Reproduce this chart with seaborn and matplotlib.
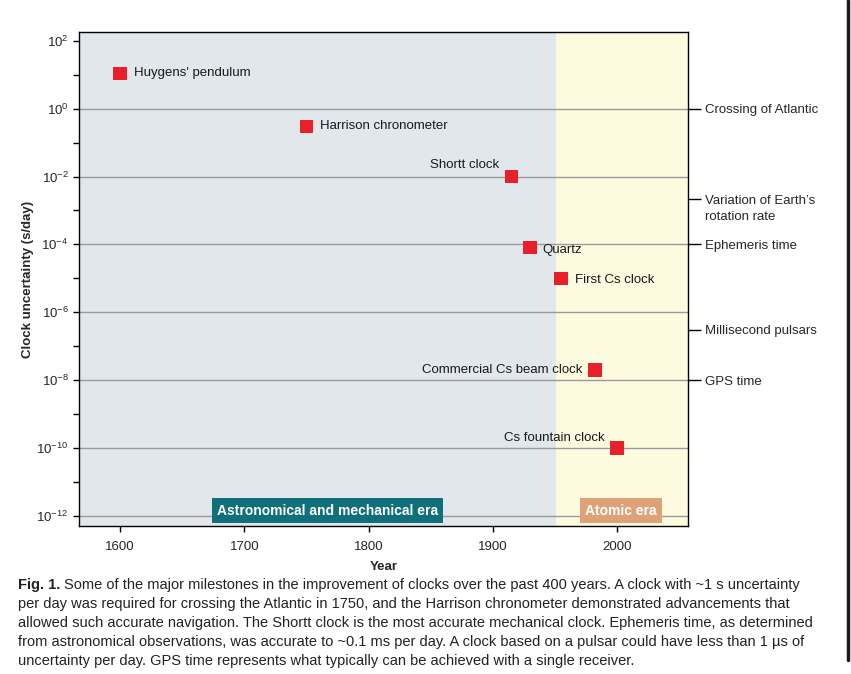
import matplotlib
matplotlib.use("Agg")
import matplotlib.pyplot as plt
import matplotlib.transforms as mtransforms
from matplotlib.lines import Line2D
import seaborn as sns
import pandas as pd

# ---- data ----
clock_names = ["Huygens' pendulum", "Harrison chronometer", "Shortt clock", "Quartz",
               "First Cs clock", "Commercial Cs beam clock", "Cs fountain clock"]
clock_years = [1600, 1750, 1915, 1930, 1955, 1982, 2000]
clock_uncert = [1.1e1, 3e-1, 1e-2, 8e-5, 1e-5, 2e-8, 1e-10]

ref_labels = ["Crossing of Atlantic", "Variation of Earth\u2019s\nrotation rate",
              "Ephemeris time", "Millisecond pulsars", "GPS time"]
ref_values = [1e0, 2.2e-3, 1e-4, 3e-7, 1e-8]

era_names = ["Astronomical and mechanical era", "Atomic era"]
era_start = [1567, 1951]
era_end = [1951, 2057]

major_exps = [2, 0, -2, -4, -6, -8, -10, -12]
minor_exps = [1, -1, -3, -5, -7, -9, -11]
year_ticks = [1600, 1700, 1800, 1900, 2000]

caption_lines = [
    "Some of the major milestones in the improvement of clocks over the past 400 years. A clock with ~1 s uncertainty",
    "per day was required for crossing the Atlantic in 1750, and the Harrison chronometer demonstrated advancements that",
    "allowed such accurate navigation. The Shortt clock is the most accurate mechanical clock. Ephemeris time, as determined",
    "from astronomical observations, was accurate to ~0.1 ms per day. A clock based on a pulsar could have less than 1 \u00b5s of",
    "uncertainty per day. GPS time represents what typically can be achieved with a single receiver.",
]

df = pd.DataFrame({"name": clock_names, "year": clock_years, "u": clock_uncert})

sns.set_theme(style="white")
plt.rcParams["font.family"] = ["Liberation Sans", "DejaVu Sans"]
plt.rcParams["mathtext.fontset"] = "custom"
plt.rcParams["mathtext.rm"] = "Liberation Sans"
plt.rcParams["mathtext.it"] = "Liberation Sans"

FS = 9.5
fig = plt.figure(figsize=(8.51, 6.74), dpi=100)
fig.patch.set_facecolor("white")
ax = fig.add_axes([79 / 851, 1 - 526 / 674, 609 / 851, 494 / 674])
ax.set_yscale("log")
ax.set_xlim(1567, 2057)
ax.set_ylim(10 ** -12.3, 10 ** 2.26)

bg_colors = ["#e1e7eb", "#fdfbdf"]
for s, e, c in zip(era_start, era_end, bg_colors):
    ax.axvspan(s, e, color=c, zorder=0, lw=0)

for ex in major_exps[1:]:
    ax.axhline(10.0 ** ex, color="#9a9a9a", lw=1.0, zorder=1)

sns.scatterplot(data=df, x="year", y="u", marker="s", s=95, color="#e8202a",
                edgecolor="none", ax=ax, zorder=3, legend=False)

offsets = {
    "Huygens' pendulum": (10, 0, "left", "center"),
    "Harrison chronometer": (10, 0, "left", "center"),
    "Shortt clock": (-9, 4, "right", "bottom"),
    "Quartz": (9, -1.5, "left", "center"),
    "First Cs clock": (10, -1, "left", "center"),
    "Commercial Cs beam clock": (-9, 0, "right", "center"),
    "Cs fountain clock": (-9, 3, "right", "bottom"),
}
for n, x, y in zip(clock_names, clock_years, clock_uncert):
    dx, dy, ha, va = offsets[n]
    ax.annotate(n, (x, y), xytext=(dx, dy), textcoords="offset points",
                ha=ha, va=va, fontsize=FS, color="#1a1a1a", zorder=4)

# era label boxes
era_box_colors = ["#0f6f7b", "#dfa178"]
era_centers = [1767, 2003]
for n, cx, c in zip(era_names, era_centers, era_box_colors):
    ax.text(cx, 10 ** -11.85, n, ha="center", va="center", fontsize=10, fontweight="bold",
            color="white", zorder=5,
            bbox=dict(boxstyle="square,pad=0.38", fc=c, ec="none"))

# y axis ticks
ax.set_yticks([10.0 ** e for e in major_exps])
ax.set_yticklabels([r"$10^{%s}$" % ("\u2212" + str(-e) if e < 0 else str(e)) for e in major_exps])
ax.set_yticks([10.0 ** e for e in minor_exps], minor=True)
ax.yaxis.set_minor_formatter(matplotlib.ticker.NullFormatter())
ax.tick_params(axis="y", which="both", direction="out", length=4.5, width=1, color="black",
               left=True, labelsize=FS, pad=3)
ax.set_xticks(year_ticks)
ax.tick_params(axis="x", direction="out", length=4.5, width=1, color="black", bottom=True,
               labelsize=FS, pad=6)
for sp in ax.spines.values():
    sp.set_color("black")
    sp.set_linewidth(1.0)
    sp.set_visible(True)
ax.set_xlabel("Year", fontsize=FS, fontweight="bold", labelpad=6)
ax.set_ylabel("Clock uncertainty (s/day)", fontsize=FS, fontweight="bold", labelpad=1.5)

# right reference ticks
ax2 = ax.twinx()
ax2.set_yscale("log")
ax2.set_ylim(ax.get_ylim())
ax2.set_yticks(ref_values)
ax2.set_yticklabels(ref_labels)
ax2.yaxis.set_minor_locator(matplotlib.ticker.NullLocator())
ax2.tick_params(axis="y", direction="out", length=9, width=1, color="black", right=True,
                labelsize=FS, pad=3)
for sp in ax2.spines.values():
    sp.set_visible(False)
for lab in ax2.get_yticklabels():
    if "\n" in lab.get_text():
        lab.set_va("top")
        lab.set_linespacing(1.45)
        lab.set_transform(lab.get_transform() + mtransforms.ScaledTranslation(0, 2.5 / 72, fig.dpi_scale_trans))

# caption
fig.canvas.draw()
r = fig.canvas.get_renderer()
cap_font = ["Liberation Sans Narrow", "Liberation Sans", "DejaVu Sans"]
CFS = 10.5
y0 = 1 - 585 / 674
bold = fig.text(18 / 851, y0, "Fig. 1.", fontsize=CFS, fontweight="bold",
                family=cap_font, va="center", ha="left", color="#222222")
bb = bold.get_window_extent(r)
for i, line in enumerate(caption_lines):
    x = (bb.x1 + 4) / 851 if i == 0 else 18 / 851
    fig.text(x, y0 - i * 19 / 674, line, fontsize=CFS, family=cap_font,
             va="center", ha="left", color="#222222")

# page border
fig.add_artist(Line2D([848 / 851, 848 / 851], [1 - 660 / 674, 1.0], transform=fig.transFigure,
                      color="#1a1a1a", lw=2.5))

fig.savefig("out.png", dpi=100)
